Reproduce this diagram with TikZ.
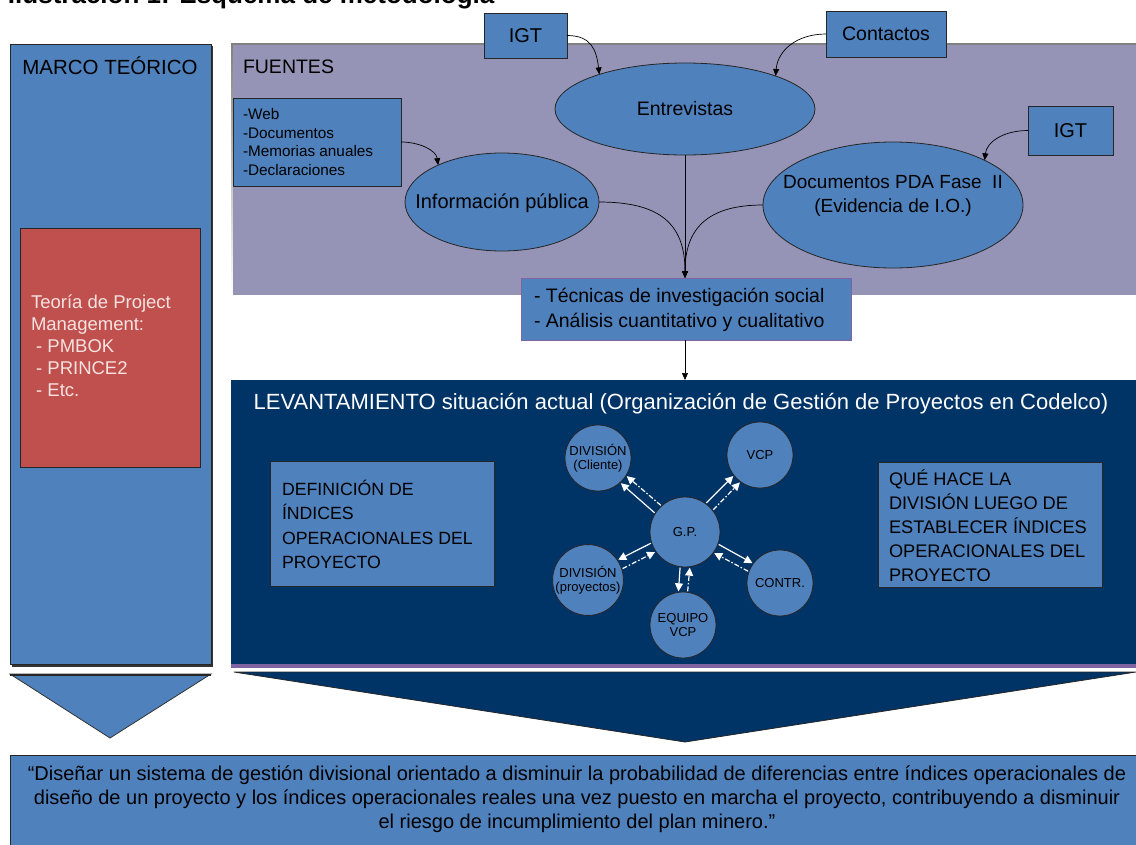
\documentclass[tikz,border=0pt]{standalone}
\usepackage{fontspec}
\setmainfont{Liberation Sans}
\usetikzlibrary{arrows.meta,shapes.geometric,calc}

\definecolor{boxblue}{RGB}{79,129,189}
\definecolor{lavender}{RGB}{149,148,183}
\definecolor{navy}{RGB}{0,51,102}
\definecolor{brick}{RGB}{192,80,77}
\definecolor{violetedge}{RGB}{128,100,162}
\definecolor{pinkwhite}{RGB}{246,226,225}
\definecolor{shade}{RGB}{80,80,80}

\newcommand\pxfont[2]{\fontsize{#1pt}{#2pt}\selectfont}

\begin{document}
\begin{tikzpicture}[x=1pt,y=-1pt,
  every node/.style={inner sep=0pt, outer sep=0pt},
  bluebox/.style={draw=black!85, line width=0.8pt, fill=boxblue},
  blueoval/.style={ellipse, draw=black!85, line width=0.8pt, fill=boxblue},
  orb/.style={circle, draw=black!85, line width=0.8pt, fill=boxblue,
    minimum size=66pt, align=center, font=\pxfont{13}{14.5}},
  feed/.style={draw=black, line width=0.7pt, -{Triangle[length=7pt,width=6pt]}},
  wsolid/.style={draw=white, line width=1.2pt,
    -{Triangle[length=8pt,width=8pt,fill=white]}, shorten <=1pt, shorten >=1pt},
  wdash/.style={wsolid, dash pattern=on 5pt off 2pt on 1.5pt off 2pt},
]
\useasboundingbox (0,0) rectangle (1136,844);

% caption line, mostly above the page edge
\node[anchor=base west, font=\bfseries\pxfont{26}{30}] (caption) at (8,3)
  {Ilustración 1: Esquema de metodología};

% ---------- MARCO TEÓRICO column ----------
\fill[black!80] (12,46) rectangle (213,667);
\node[bluebox, anchor=north west, minimum width=201pt, minimum height=620pt] (marco) at (10,44) {};
\node[font=\pxfont{20.5}{24}] (marcot) at (110,66) {MARCO TEÓRICO};
\node[draw=black!85, line width=0.8pt, fill=brick, anchor=north west,
  minimum width=180pt, minimum height=239pt] (pm) at (20,228) {};
\node[anchor=west, align=left, text=pinkwhite, font=\pxfont{18.5}{22}] (pmt) at (31,346)
  {Teoría de Project\\Management:\\\ - PMBOK\\\ - PRINCE2\\\ - Etc.};
\filldraw[fill=boxblue, draw=black!80, line width=0.8pt] (10,674) -- (211,674) -- (110,738) -- cycle;
\draw[black!85, line width=2pt] (10,675) -- (211,675);

% ---------- FUENTES panel ----------
\fill[shade] (231,43) rectangle (1136,297);
\node[fill=lavender, anchor=north west, minimum width=903pt, minimum height=250pt] (fuentes) at (233,45) {};
\node[anchor=west, font=\pxfont{19.5}{22}] (fuentest) at (243,67) {FUENTES};

\node[bluebox, minimum width=83pt, minimum height=45pt, font=\pxfont{20}{24}] (igta) at (525.5,35.5) {IGT};
\node[bluebox, minimum width=120pt, minimum height=46pt, font=\pxfont{19.5}{24}] (cont) at (886,34) {Contactos};
\node[blueoval, minimum width=260pt, minimum height=92pt, font=\pxfont{19.5}{24}] (ent) at (685,109) {Entrevistas};

\node[bluebox, anchor=north west, minimum width=168pt, minimum height=88pt] (web) at (233,98) {};
\node[anchor=north west, align=left, font=\pxfont{15.3}{18.5}] (webt) at (243,108.5)
  {-Web\\-Documentos\\-Memorias anuales\\-Declaraciones};
\node[blueoval, minimum width=194pt, minimum height=98pt] (ip) at (502,202) {};
\node[font=\pxfont{20}{24}] (ipt) at (502,203) {Información pública};

\node[bluebox, minimum width=85pt, minimum height=49pt, font=\pxfont{20}{24}] (igtb) at (1070.5,130.5) {IGT};
\node[blueoval, minimum width=260pt, minimum height=126pt] (pda) at (893,205) {};
\node[align=center, font=\pxfont{19}{24}] (pdat) at (893,196) {Documentos PDA Fase\ \ II\\(Evidencia de I.O.)};

\node[draw=violetedge, line width=1pt, fill=boxblue, anchor=north west,
  minimum width=330pt, minimum height=62pt] (tec) at (521,278) {};
\node[anchor=west, align=left, font=\pxfont{19.5}{25}] (tect) at (534,309.5)
  {- Técnicas de investigación social\\- Análisis cuantitativo y cualitativo};

% feeds into the interviews and documents
\draw[feed] (igta.east) .. controls +(24,0) and +(-3,-25) .. (ent.158);
\draw[feed] (cont.west) .. controls +(-30,0) and +(2,-25) .. (ent.20);
\draw[feed] (web.east) .. controls +(18,0) and +(-2,-15) .. (ip.150);
\draw[feed] (igtb.west) .. controls +(-25,0) and +(2,-18) .. (pda.26);

% sources converging on the analysis box
\draw[feed] (ent.south) -- (ent.south |- tec.north);
\draw[feed] (ip.east) .. controls +(60,0) and +(0,-55) .. (ent.south |- tec.north);
\draw[feed] (pda.west) .. controls +(-55,0) and +(0,-50) .. (ent.south |- tec.north);

% ---------- LEVANTAMIENTO panel ----------
\node[fill=navy, anchor=north west, minimum width=905pt, minimum height=285pt] (lev) at (231,380) {};
\fill[violetedge] (231,664) rectangle (1136,668);
\draw[feed] (ent.south |- tec.south) -- (ent.south |- lev.north);
\node[text=white, font=\pxfont{22}{26}] (levt) at (681,404)
  {LEVANTAMIENTO situación actual (Organización de Gestión de Proyectos en Codelco)};

\node[bluebox, anchor=north west, minimum width=224pt, minimum height=125pt] (defi) at (270,461) {};
\node[anchor=west, align=left, font=\pxfont{17.7}{24.4}] (defit) at (282,524.5)
  {DEFINICIÓN DE\\ÍNDICES\\OPERACIONALES DEL\\PROYECTO};

\node[bluebox, anchor=north west, minimum width=224pt, minimum height=125pt] (que) at (878,462) {};
\node[anchor=west, align=left, font=\pxfont{18.2}{24}] (quet) at (889,526)
  {QUÉ HACE LA\\DIVISIÓN LUEGO DE\\ESTABLECER ÍNDICES\\OPERACIONALES DEL\\PROYECTO};

% relations around the project management unit
\node[orb, minimum size=70pt] (gp) at (685,532) {G.P.};
\node[orb] (cl) at (598,458) {DIVISIÓN\\(Cliente)};
\node[orb] (vcp) at (760,455) {VCP};
\node[orb] (pr) at (588,580) {DIVISIÓN\\(proyectos)};
\node[orb] (ct) at (780,583) {CONTR.};
\node[orb] (eq) at (683,625) {EQUIPO\\VCP};

\draw[wsolid] (gp.148) -- (cl.312);
\draw[wdash]  (gp.132) -- (cl.328);
\draw[wsolid] (gp.54) -- (vcp.218);
\draw[wdash]  (gp.38) -- (vcp.234);
\draw[wsolid] (gp.198) -- (pr.34);
\draw[wdash]  (pr.18) -- (gp.214);
\draw[wsolid] (gp.340) -- (ct.144);
\draw[wdash]  (ct.160) -- (gp.324);
\draw[wsolid] (gp.262) -- (eq.98);
\draw[wdash]  (eq.82) -- (gp.278);

% big funnel towards the objective
\filldraw[fill=navy, draw=black!85, line width=0.8pt] (234,672) -- (1136,672) -- (685,742) -- cycle;

% ---------- objective ----------
\node[bluebox, anchor=north west, minimum width=1130pt, minimum height=95pt] (obj) at (10,755) {};
\node[align=center, font=\pxfont{20}{24}] (objt) at (577,799)
  {“Diseñar un sistema de gestión divisional orientado a disminuir la probabilidad de diferencias entre índices operacionales de\\
   diseño de un proyecto y los índices operacionales reales una vez puesto en marcha el proyecto, contribuyendo a disminuir\\
   el riesgo de incumplimiento del plan minero.”};
\end{tikzpicture}
\end{document}
